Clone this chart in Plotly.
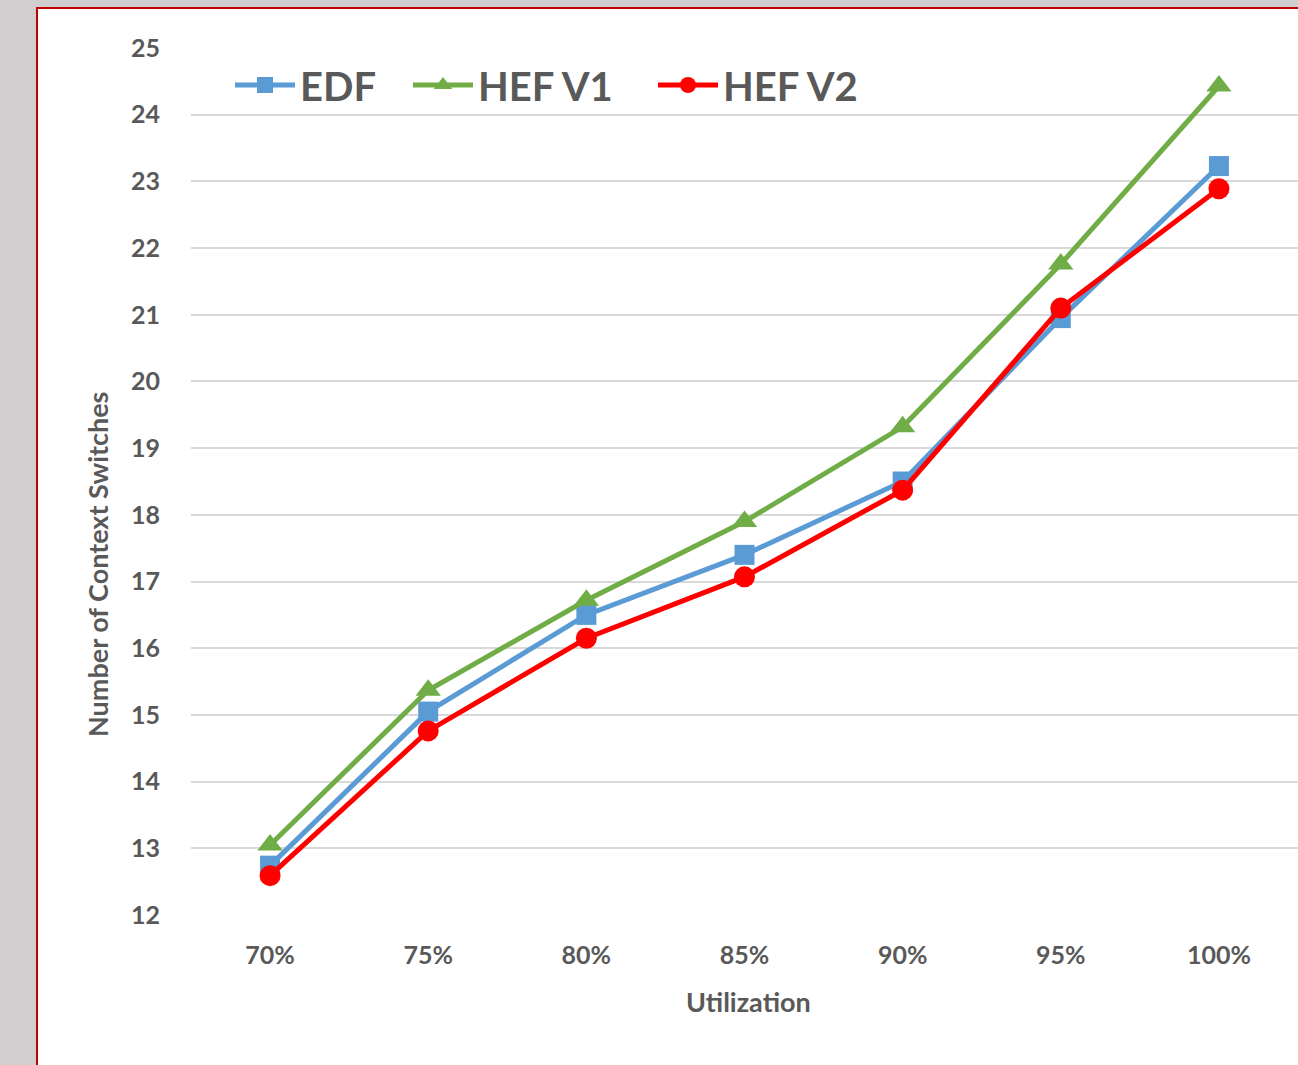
import plotly.graph_objects as go

categories = ["70%", "75%", "80%", "85%", "90%", "95%", "100%"]
edf = [12.74, 15.05, 16.5, 17.4, 18.5, 20.95, 23.23]
hef_v1 = [13.05, 15.37, 16.72, 17.9, 19.32, 21.76, 24.43]
hef_v2 = [12.59, 14.76, 16.15, 17.07, 18.37, 21.1, 22.89]
y_ticks = list(range(12, 26))

FONT = "Lato"
GRAY = "#595959"

fig = go.Figure()
fig.add_trace(go.Scatter(x=categories, y=edf, name="EDF", mode="lines+markers",
                         line=dict(color="#5b9bd5", width=5), legend="legend",
                         marker=dict(symbol="square", size=20, color="#5b9bd5")))
fig.add_trace(go.Scatter(x=categories, y=hef_v1, name="HEF V1", mode="lines+markers",
                         line=dict(color="#70ad47", width=5), legend="legend2",
                         marker=dict(symbol="triangle-up", size=22, color="#70ad47")))
fig.add_trace(go.Scatter(x=categories, y=hef_v2, name="HEF V2", mode="lines+markers",
                         line=dict(color="#ff0000", width=5), legend="legend3",
                         marker=dict(symbol="circle", size=21, color="#ff0000")))

L, R, T, B = 191, 0, 48, 150
W, H = 1298, 1065
pw, ph = W - L - R, H - T - B

def px_x(p):
    return (p - L) / pw

def px_y(p):
    return (H - B - p) / ph

fig.add_shape(type="rect", xref="paper", yref="paper",
              x0=px_x(37), x1=px_x(1340), y0=px_y(8), y1=px_y(1100),
              fillcolor="white", line=dict(color="#c00000", width=2), layer="below")

fig.add_annotation(text="Number of Context Switches", xref="paper", yref="paper",
                   x=px_x(97), y=px_y(565), xanchor="center", yanchor="middle",
                   showarrow=False, textangle=-90,
                   font=dict(family=FONT, size=27, color=GRAY, weight="bold"))
fig.add_annotation(text="Utilization", xref="paper", yref="paper",
                   x=px_x(748), y=px_y(1001), xanchor="center", yanchor="middle",
                   showarrow=False,
                   font=dict(family=FONT, size=27, color=GRAY, weight="bold"))

def legend_at(px):
    return dict(orientation="h", x=px_x(px), y=px_y(85), xanchor="left", yanchor="middle",
                font=dict(family=FONT, size=40, color=GRAY, weight="bold"),
                bgcolor="rgba(0,0,0,0)", itemwidth=60, tracegroupgap=0)

fig.update_layout(
    width=W, height=H,
    margin=dict(l=L, r=R, t=T, b=B, pad=0),
    paper_bgcolor="#d0cece",
    plot_bgcolor="rgba(0,0,0,0)",
    font=dict(family=FONT, color=GRAY),
    showlegend=True,
    legend=legend_at(230),
    legend2=legend_at(408),
    legend3=legend_at(653),
    xaxis=dict(type="category", categoryorder="array", categoryarray=categories,
               range=[-0.5, len(categories) - 0.5],
               showgrid=False, zeroline=False, showline=False,
               ticks="outside", ticklen=18, tickcolor="rgba(0,0,0,0)",
               tickfont=dict(family=FONT, size=25, color=GRAY, weight="bold")),
    yaxis=dict(range=[12, 25], tickvals=y_ticks, showgrid=True, gridcolor="#d9d9d9",
               gridwidth=2, zeroline=False, showline=False,
               ticks="outside", ticklen=25, tickcolor="rgba(0,0,0,0)",
               tickfont=dict(family=FONT, size=25, color=GRAY, weight="bold")),
)

fig.write_html("out.html", config={"displayModeBar": False},
               post_script="document.body.style.margin='0';document.body.style.overflow='hidden';")
